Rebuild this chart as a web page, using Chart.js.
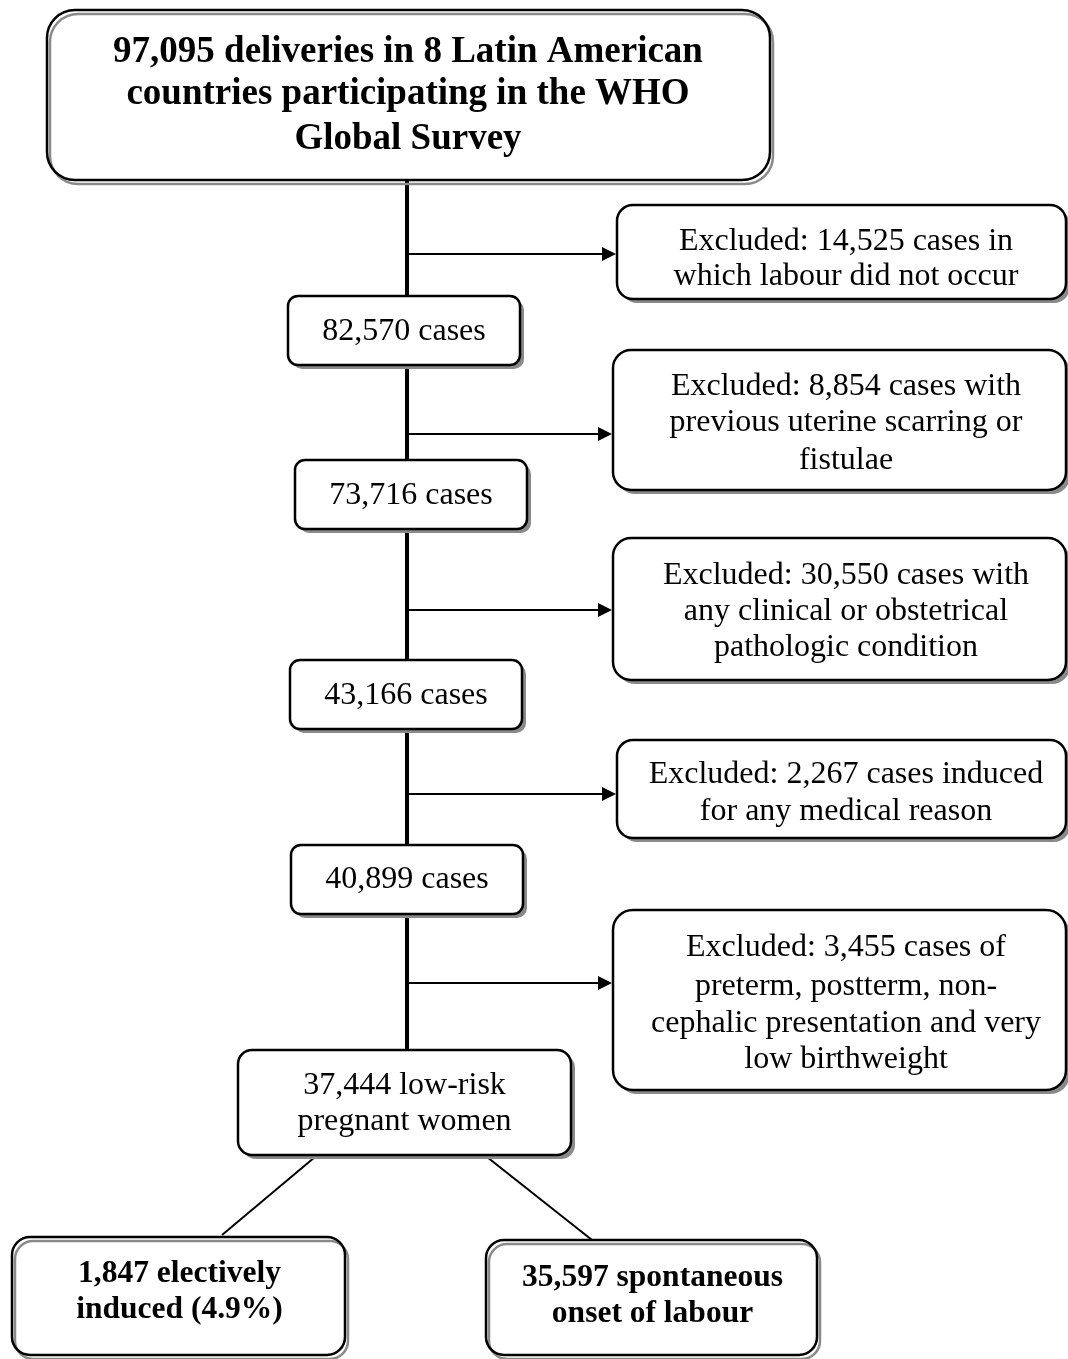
<!DOCTYPE html>
<html>
<head>
<meta charset="utf-8">
<title>Flow of low-risk pregnant women</title>
<script src="https://cdn.jsdelivr.net/npm/chart.js@4.4.0/dist/chart.umd.min.js"></script>
<style>
  html, body { margin: 0; padding: 0; background: #fff; }
  #flow { display: block; }
</style>
</head>
<body>
<canvas id="flow" width="1068" height="1359"></canvas>
<script>
// Data
const totalDeliveries = 97095;
const countryCount = 8;
const remainingCounts = [82570, 73716, 43166, 40899, 37444];
const excludedCounts = [14525, 8854, 30550, 2267, 3455];
const outcomeCounts = [1847, 35597];
const outcomePercent = [4.9];

const fmt = n => n.toLocaleString('en-US');

const topLines = [
    fmt(totalDeliveries) + ' deliveries in ' + countryCount + ' Latin American',
    'countries participating in the WHO',
    'Global Survey'
];
const remainingLines = [
    [fmt(remainingCounts[0]) + ' cases'],
    [fmt(remainingCounts[1]) + ' cases'],
    [fmt(remainingCounts[2]) + ' cases'],
    [fmt(remainingCounts[3]) + ' cases'],
    [fmt(remainingCounts[4]) + ' low-risk', 'pregnant women']
];
const excludedLines = [
    ['Excluded: ' + fmt(excludedCounts[0]) + ' cases in', 'which labour did not occur'],
    ['Excluded: ' + fmt(excludedCounts[1]) + ' cases with', 'previous uterine scarring or', 'fistulae'],
    ['Excluded: ' + fmt(excludedCounts[2]) + ' cases with', 'any clinical or obstetrical', 'pathologic condition'],
    ['Excluded: ' + fmt(excludedCounts[3]) + ' cases induced', 'for any medical reason'],
    ['Excluded: ' + fmt(excludedCounts[4]) + ' cases of', 'preterm, postterm, non-', 'cephalic presentation and very', 'low birthweight']
];
const outcomeLines = [
    [fmt(outcomeCounts[0]) + ' electively', 'induced (' + outcomePercent[0] + '%)'],
    [fmt(outcomeCounts[1]) + ' spontaneous', 'onset of labour']
];

// Layout (diagram units = pixels of the reference, y grows downward)
const topBox = { x0: 47, y0: 10, x1: 770, y1: 180, r: 28, textY: [50, 92, 137] };
const remainingBoxes = [
    { x0: 288, y0: 296, x1: 520, y1: 365, r: 10, textY: [330] },
    { x0: 295, y0: 460, x1: 527, y1: 529, r: 10, textY: [494] },
    { x0: 290, y0: 660, x1: 522, y1: 729, r: 10, textY: [694] },
    { x0: 291, y0: 845, x1: 523, y1: 914, r: 10, textY: [878] },
    { x0: 238, y0: 1050, x1: 571, y1: 1155, r: 14, textY: [1084, 1120] }
];
const excludedBoxes = [
    { x0: 617, y0: 205, x1: 1066, y1: 299, r: 16, arrowY: 254, textY: [240, 275] },
    { x0: 613, y0: 350, x1: 1066, y1: 490, r: 18, arrowY: 434, textY: [385, 421, 459] },
    { x0: 613, y0: 538, x1: 1066, y1: 680, r: 18, arrowY: 610, textY: [574, 610, 646] },
    { x0: 617, y0: 740, x1: 1066, y1: 838, r: 16, arrowY: 794, textY: [773, 810] },
    { x0: 613, y0: 910, x1: 1066, y1: 1090, r: 20, arrowY: 983, textY: [946, 985, 1022, 1058] }
];
const outcomeBoxes = [
    { x0: 12, y0: 1237, x1: 345, y1: 1355, r: 18, textY: [1272, 1308], from: [315, 1157], to: [222, 1235] },
    { x0: 486, y0: 1240, x1: 817, y1: 1355, r: 18, textY: [1276, 1312], from: [487, 1157], to: [592, 1240] }
];
const trunkX = 407;
const textNudge = 2;

const serif = '"Liberation Serif", "Times New Roman", serif';

const flowPlugin = {
    id: 'flowPlugin',
    afterDraw(chart) {
        const ctx = chart.ctx;
        const sx = chart.scales.x, sy = chart.scales.y;
        const px = v => sx.getPixelForValue(v);
        const py = v => sy.getPixelForValue(v);

        function rr(x0, y0, x1, y1, r) {
            const a = px(x0), b = py(y0), c = px(x1), d = py(y1);
            ctx.beginPath();
            ctx.roundRect(a, b, c - a, d - b, r);
        }
        function shadowBox(bx) {
            ctx.fillStyle = '#8a8a8a';
            rr(bx.x0 + 4, bx.y0 + 4, bx.x1 + 4, bx.y1 + 4, bx.r);
            ctx.fill();
            ctx.fillStyle = '#fff';
            rr(bx.x0, bx.y0, bx.x1, bx.y1, bx.r);
            ctx.fill();
            ctx.strokeStyle = '#000';
            ctx.lineWidth = 2.5;
            ctx.stroke();
        }
        function doubleBox(bx) {
            ctx.fillStyle = '#fff';
            rr(bx.x0, bx.y0, bx.x1, bx.y1, bx.r);
            ctx.fill();
            ctx.strokeStyle = '#8a8a8a';
            ctx.lineWidth = 2.5;
            rr(bx.x0 + 3, bx.y0 + 4, bx.x1 + 3, bx.y1 + 4, bx.r);
            ctx.stroke();
            ctx.strokeStyle = '#000';
            ctx.lineWidth = 2.5;
            rr(bx.x0, bx.y0, bx.x1, bx.y1, bx.r);
            ctx.stroke();
        }
        function text(lines, cx, ys, font) {
            ctx.fillStyle = '#000';
            ctx.font = font;
            ctx.textAlign = 'center';
            ctx.textBaseline = 'middle';
            lines.forEach((t, i) => ctx.fillText(t, px(cx), py(ys[i] + textNudge)));
        }
        function line(x0, y0, x1, y1, w) {
            ctx.strokeStyle = '#000';
            ctx.lineWidth = w;
            ctx.beginPath();
            ctx.moveTo(px(x0), py(y0));
            ctx.lineTo(px(x1), py(y1));
            ctx.stroke();
        }

        ctx.save();
        ctx.lineCap = 'butt';

        // trunk
        line(trunkX, topBox.y1, trunkX, remainingBoxes[4].y0, 4);

        // exclusion arrows
        excludedBoxes.forEach(bx => {
            line(trunkX, bx.arrowY, bx.x0 - 12, bx.arrowY, 2);
            ctx.fillStyle = '#000';
            ctx.beginPath();
            ctx.moveTo(px(bx.x0 - 1), py(bx.arrowY));
            ctx.lineTo(px(bx.x0 - 15), py(bx.arrowY - 7));
            ctx.lineTo(px(bx.x0 - 15), py(bx.arrowY + 7));
            ctx.closePath();
            ctx.fill();
        });

        // diagonals to the outcomes
        outcomeBoxes.forEach(bx => line(bx.from[0], bx.from[1], bx.to[0], bx.to[1], 2));

        doubleBox(topBox);
        text(topLines, 408, topBox.textY, 'bold 37px ' + serif);

        remainingBoxes.forEach((bx, i) => {
            shadowBox(bx);
            text(remainingLines[i], (bx.x0 + bx.x1) / 2, bx.textY, '32px ' + serif);
        });
        excludedBoxes.forEach((bx, i) => {
            shadowBox(bx);
            text(excludedLines[i], 846, bx.textY, '32px ' + serif);
        });
        outcomeBoxes.forEach((bx, i) => {
            doubleBox(bx);
            text(outcomeLines[i], (bx.x0 + bx.x1) / 2 + 1, bx.textY, 'bold 31.5px ' + serif);
        });
        ctx.restore();
    }
};

new Chart(document.getElementById('flow'), {
    type: 'scatter',
    data: {
        datasets: [{
            data: remainingBoxes.map(bx => ({ x: (bx.x0 + bx.x1) / 2, y: (bx.y0 + bx.y1) / 2 })),
            pointRadius: 0
        }]
    },
    options: {
        responsive: false,
        animation: false,
        layout: { padding: 0 },
        plugins: { legend: { display: false }, tooltip: { enabled: false } },
        scales: {
            x: { type: 'linear', min: 0, max: 1068, display: false },
            y: { type: 'linear', min: 0, max: 1359, reverse: true, display: false }
        }
    },
    plugins: [flowPlugin]
});
</script>
</body>
</html>
